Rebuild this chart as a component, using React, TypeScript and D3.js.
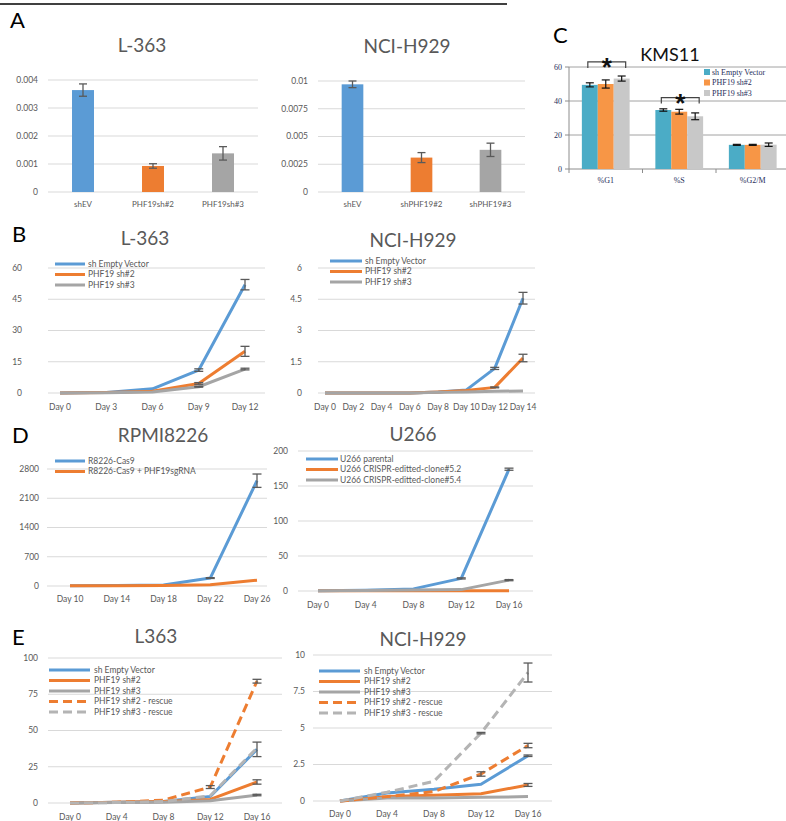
import React from 'react';
import * as d3 from 'd3';

// ---- data ----
const aCatsL363 = ['shEV', 'PHF19sh#2', 'PHF19sh#3'];
const aValsL363 = [0.00364, 0.00093, 0.00138];
const aErrL363 = [0.00022, 0.00008, 0.00024];
const aTicksL363 = [0, 0.001, 0.002, 0.003, 0.004];

const aCatsH929 = ['shEV', 'shPHF19#2', 'shPHF19#3'];
const aValsH929 = [0.0097, 0.0031, 0.0038];
const aErrH929 = [0.0003, 0.00045, 0.0006];
const aTicksH929 = [0, 0.0025, 0.005, 0.0075, 0.01];

const cPhases = ['%G1', '%S', '%G2/M'];
const cNames = ['sh Empty Vector', 'PHF19 sh#2', 'PHF19 sh#3'];
const cEmpty = [49.5, 34.7, 14.2];
const cEmptyErr = [1.2, 0.7, 0.3];
const cSh2 = [50, 33.7, 14.2];
const cSh2Err = [2.4, 1.4, 0.3];
const cSh3 = [53.2, 31, 14.3];
const cSh3Err = [1.5, 2, 1];
const cTicks = [0, 20, 40, 60];
const cSig = [{ phase: '%G1', at: 63 }, { phase: '%S', at: 42 }];

const bDaysL363 = ['Day 0', 'Day 3', 'Day 6', 'Day 9', 'Day 12'];
const bL363Empty = [0, 0.3, 2, 11, 52];
const bL363EmptyErr = [0, 0, 0, 0.6, 2.5];
const bL363Sh2 = [0, 0.2, 0.8, 4.6, 20];
const bL363Sh2Err = [0, 0, 0, 0.4, 2.4];
const bL363Sh3 = [0, 0.1, 0.5, 3, 11.5];
const bL363Sh3Err = [0, 0, 0, 0.2, 0.4];
const bTicksL363 = [0, 15, 30, 45, 60];

const bDaysH929 = ['Day 0', 'Day 2', 'Day 4', 'Day 6', 'Day 8', 'Day 10', 'Day 12', 'Day 14'];
const bH929Empty = [0, 0, 0, 0, 0.05, 0.15, 1.18, 4.55];
const bH929EmptyErr = [0, 0, 0, 0, 0, 0, 0.05, 0.28];
const bH929Sh2 = [0, 0, 0, 0, 0.05, 0.12, 0.27, 1.68];
const bH929Sh2Err = [0, 0, 0, 0, 0, 0, 0.02, 0.18];
const bH929Sh3 = [0, 0, 0, 0, 0.03, 0.05, 0.08, 0.1];
const bTicksH929 = [0, 1.5, 3, 4.5, 6];

const dDaysRpmi = ['Day 10', 'Day 14', 'Day 18', 'Day 22', 'Day 26'];
const dCas9 = [5, 10, 25, 190, 2520];
const dCas9Err = [0, 0, 0, 10, 160];
const dSgRNA = [5, 8, 12, 30, 140];
const dTicksRpmi = [0, 700, 1400, 2100, 2800];

const dDaysU266 = ['Day 0', 'Day 4', 'Day 8', 'Day 12', 'Day 16'];
const dParental = [0.5, 1, 3, 18, 174];
const dParentalErr = [0, 0, 0, 0.8, 1.5];
const dClone52 = [0.2, 0.3, 0.4, 0.5, 0.5];
const dClone54 = [0.5, 0.8, 1.5, 2, 15.5];
const dClone54Err = [0, 0, 0, 0, 0.8];
const dTicksU266 = [0, 50, 100, 150, 200];

const eDays = ['Day 0', 'Day 4', 'Day 8', 'Day 12', 'Day 16'];
const eLEmpty = [0, 0.5, 1, 4.5, 37];
const eLEmptyErr = [0, 0, 0, 0, 5];
const eLSh2 = [0, 0.5, 1, 2.5, 14.5];
const eLSh2Err = [0, 0, 0, 0, 1.5];
const eLSh3 = [0, 0.3, 0.5, 1.5, 5.5];
const eLSh3Err = [0, 0, 0, 0, 0.5];
const eLSh2R = [0, 0.5, 2, 11, 84];
const eLSh2RErr = [0, 0, 0, 1, 1.3];
const eLSh3R = [0, 0.3, 1, 5, 38];
const eTicksL = [0, 25, 50, 75, 100];

const eHEmpty = [0, 0.55, 0.8, 1.15, 3.1];
const eHEmptyErr = [0, 0, 0, 0, 0.05];
const eHSh2 = [0, 0.3, 0.4, 0.5, 1.1];
const eHSh2Err = [0, 0, 0, 0, 0.1];
const eHSh3 = [0, 0.2, 0.2, 0.25, 0.3];
const eHSh2R = [0, 0.3, 0.65, 1.85, 3.8];
const eHSh2RErr = [0, 0, 0, 0.15, 0.15];
const eHSh3R = [0, 0.6, 1.35, 4.65, 8.8];
const eHSh3RErr = [0, 0, 0, 0.05, 0.65];
const eTicksH = [0, 2.5, 5, 7.5, 10];

// ---- styles ----
const FONT = 'Lato, "Open Sans", sans-serif';
const SERIF = '"Liberation Serif", "DejaVu Serif", serif';
const BLUE = '#5b9bd5';
const ORANGE = '#ed7d31';
const GRAY = '#a5a5a5';
const GRID = '#d9d9d9';
const TXT = '#595959';
const ERR = '#5a5a5a';
const DASH = '9,5';

type Series = { name: string; values: number[]; err?: number[]; color: string; dash?: string };

function ErrBar({ x, y0, y1, w }: { x: number; y0: number; y1: number; w: number }) {
  return (
    <g stroke={ERR} strokeWidth={1.3}>
      <line x1={x} x2={x} y1={y0} y2={y1} />
      <line x1={x - w / 2} x2={x + w / 2} y1={y0} y2={y0} />
      <line x1={x - w / 2} x2={x + w / 2} y1={y1} y2={y1} />
    </g>
  );
}

function LinePanel(p: {
  title: string; titleX: number; titleY: number;
  cats: string[]; xRange: [number, number]; gridX: [number, number];
  ticks: number[]; yBottom: number; yTop: number; labelX: number; catY: number;
  series: Series[]; legend: { x0: number; x1: number; tx: number; y0: number; dy: number };
}) {
  const x = d3.scalePoint<string>().domain(p.cats).range(p.xRange);
  const y = d3.scaleLinear().domain([0, p.ticks[p.ticks.length - 1]]).range([p.yBottom, p.yTop]);
  const line = d3.line<number>().x((_, i) => x(p.cats[i]) as number).y(v => y(v));
  return (
    <g fontFamily={FONT}>
      <text x={p.titleX} y={p.titleY} textAnchor="middle" fontSize={19} fill={TXT}>{p.title}</text>
      {p.ticks.map(t => (
        <g key={t}>
          <line x1={p.gridX[0]} x2={p.gridX[1]} y1={y(t)} y2={y(t)} stroke={GRID} />
          <text x={p.labelX} y={y(t)} dy="0.35em" textAnchor="end" fontSize={8.5} fill={TXT}>{String(t)}</text>
        </g>
      ))}
      {p.cats.map(c => (
        <text key={c} x={x(c)} y={p.catY} textAnchor="middle" fontSize={8.5} fill={TXT}>{c}</text>
      ))}
      {p.series.map(s => (
        <path key={s.name} d={line(s.values) as string} fill="none" stroke={s.color} strokeWidth={3}
          strokeDasharray={s.dash} strokeLinejoin="round" />
      ))}
      {p.series.map(s => s.err ? s.err.map((e, i) => e > 0 ? (
        <ErrBar key={s.name + i} x={x(p.cats[i]) as number} y0={y(s.values[i] + e)} y1={y(s.values[i] - e)} w={9} />
      ) : null) : null)}
      {p.series.map((s, i) => {
        const ly = p.legend.y0 + i * p.legend.dy;
        return (
          <g key={'lg' + s.name}>
            <line x1={p.legend.x0} x2={p.legend.x1} y1={ly} y2={ly} stroke={s.color} strokeWidth={3} strokeDasharray={s.dash} />
            <text x={p.legend.tx} y={ly} dy="0.35em" fontSize={8.5} fill={TXT}>{s.name}</text>
          </g>
        );
      })}
    </g>
  );
}

function BarPanel(p: {
  title: string; titleX: number; titleY: number;
  cats: string[]; values: number[]; err: number[]; ticks: number[];
  xRange: [number, number]; yBottom: number; yTop: number; labelX: number; catY: number;
}) {
  const x = d3.scaleBand<string>().domain(p.cats).range(p.xRange).paddingInner(0.686).paddingOuter(0.343);
  const y = d3.scaleLinear().domain([0, p.ticks[p.ticks.length - 1]]).range([p.yBottom, p.yTop]);
  const colors = [BLUE, ORANGE, GRAY];
  return (
    <g fontFamily={FONT}>
      <text x={p.titleX} y={p.titleY} textAnchor="middle" fontSize={19} fill={TXT}>{p.title}</text>
      {p.ticks.map(t => (
        <g key={t}>
          <line x1={p.xRange[0]} x2={p.xRange[1]} y1={y(t)} y2={y(t)} stroke={GRID} />
          <text x={p.labelX} y={y(t)} dy="0.35em" textAnchor="end" fontSize={8.5} fill={TXT}>{String(t)}</text>
        </g>
      ))}
      {p.cats.map((c, i) => {
        const bx = x(c) as number;
        const cx = bx + x.bandwidth() / 2;
        return (
          <g key={c}>
            <rect x={bx} y={y(p.values[i])} width={x.bandwidth()} height={y(0) - y(p.values[i])} fill={colors[i]} />
            <ErrBar x={cx} y0={y(p.values[i] + p.err[i])} y1={y(p.values[i] - p.err[i])} w={8} />
            <text x={cx} y={p.catY} textAnchor="middle" fontSize={8} fill={TXT}>{c}</text>
          </g>
        );
      })}
    </g>
  );
}

function CPanel() {
  const x0 = d3.scaleBand<string>().domain(cPhases).range([569, 789.5]).paddingInner(0.35).paddingOuter(0.175);
  const x1 = d3.scaleBand<string>().domain(cNames).range([0, x0.bandwidth()]);
  const y = d3.scaleLinear().domain([0, 60]).range([169, 67]);
  const vals = [cEmpty, cSh2, cSh3];
  const errs = [cEmptyErr, cSh2Err, cSh3Err];
  const cols = ['#4bacc6', '#f79646', '#c8c8c8'];
  const axisCol = '#8c8c8c';
  const edges = [0, 1, 2, 3].map(i => 569 + i * x0.step());
  return (
    <g>
      <text x={670} y={61} textAnchor="middle" fontSize={18} fontFamily={FONT} fill="#111">KMS11</text>
      {cTicks.map(t => (
        <g key={t}>
          {t > 0 && <line x1={569} x2={786} y1={y(t)} y2={y(t)} stroke={axisCol} strokeWidth={0.8} />}
          <line x1={565} x2={569} y1={y(t)} y2={y(t)} stroke={axisCol} />
          <text x={562} y={y(t)} dy="0.35em" textAnchor="end" fontSize={8} fontFamily={SERIF} fill="#1f2d5a">{t}</text>
        </g>
      ))}
      <line x1={569} x2={569} y1={y(60)} y2={y(0)} stroke={axisCol} />
      <line x1={569} x2={786} y1={y(0)} y2={y(0)} stroke={axisCol} />
      {edges.map(e => <line key={e} x1={e} x2={e} y1={y(0)} y2={y(0) + 4} stroke={axisCol} />)}
      {cPhases.map((ph, j) => (
        <g key={ph}>
          {cNames.map((n, i) => {
            const bx = (x0(ph) as number) + (x1(n) as number);
            const cx = bx + x1.bandwidth() / 2;
            return (
              <g key={n}>
                <rect x={bx} y={y(vals[i][j])} width={x1.bandwidth()} height={y(0) - y(vals[i][j])} fill={cols[i]} />
                <g stroke="#111" strokeWidth={1.2}>
                  <line x1={cx} x2={cx} y1={y(vals[i][j] + errs[i][j])} y2={y(vals[i][j] - errs[i][j])} />
                  <line x1={cx - 4} x2={cx + 4} y1={y(vals[i][j] + errs[i][j])} y2={y(vals[i][j] + errs[i][j])} />
                  <line x1={cx - 4} x2={cx + 4} y1={y(vals[i][j] - errs[i][j])} y2={y(vals[i][j] - errs[i][j])} />
                </g>
              </g>
            );
          })}
          <text x={(x0(ph) as number) + x0.bandwidth() / 2} y={183} textAnchor="middle" fontSize={8} fontFamily={SERIF} fill="#1f2d5a">{ph}</text>
        </g>
      ))}
      {cSig.map(s => {
        const a = (x0(s.phase) as number) + (x1(cNames[0]) as number) + x1.bandwidth() / 2 - 2;
        const b = (x0(s.phase) as number) + (x1(cNames[2]) as number) + x1.bandwidth() / 2 + 4;
        const yy = y(s.at);
        return (
          <g key={s.phase}>
            <path d={`M${a},${yy + 6}V${yy}H${b}V${yy + 6}`} fill="none" stroke="#444" strokeWidth={1.2} />
            <text x={(a + b) / 2} y={yy + 14} textAnchor="middle" fontSize={26} fontWeight="bold" fontFamily='"Liberation Sans", sans-serif' fill="#111">*</text>
          </g>
        );
      })}
      {cNames.map((n, i) => (
        <g key={'lg' + n}>
          <rect x={704} y={72 + i * 10.5 - 3} width={6} height={6} fill={cols[i]} />
          <text x={712} y={72 + i * 10.5} dy="0.35em" fontSize={8} fontFamily={SERIF} fill="#1f2d5a">{n}</text>
        </g>
      ))}
    </g>
  );
}

export default function App() {
  const letter = (t: string, x: number, y: number) => (
    <text x={x} y={y} fontSize={22} fontFamily={FONT} fill="#000">{t}</text>
  );
  const lg5 = (x0: number, x1: number, tx: number, y0: number) => ({ x0, x1, tx, y0, dy: 10.5 });
  return (
    <svg width={786} height={821} style={{ position: 'absolute', left: 0, top: 0, background: '#fff' }}>
      <rect width={786} height={821} fill="#fff" />
      <line x1={0} x2={507} y1={4} y2={4} stroke="#000" strokeWidth={1.5} />
      {letter('A', 10, 28)}
      {letter('B', 12, 242)}
      {letter('C', 553, 43)}
      {letter('D', 12, 443)}
      {letter('E', 12, 645)}

      <BarPanel title="L-363" titleX={142} titleY={52} cats={aCatsL363} values={aValsL363} err={aErrL363}
        ticks={aTicksL363} xRange={[48, 258]} yBottom={192} yTop={80} labelX={38} catY={207} />
      <BarPanel title="NCI-H929" titleX={407} titleY={53} cats={aCatsH929} values={aValsH929} err={aErrH929}
        ticks={aTicksH929} xRange={[318, 525]} yBottom={192} yTop={81} labelX={308} catY={207} />
      <CPanel />

      <LinePanel title="L-363" titleX={145} titleY={245} cats={bDaysL363} xRange={[60, 245]} gridX={[48, 265]}
        ticks={bTicksL363} yBottom={393} yTop={268} labelX={22} catY={410}
        series={[
          { name: 'sh Empty Vector', values: bL363Empty, err: bL363EmptyErr, color: BLUE },
          { name: 'PHF19 sh#2', values: bL363Sh2, err: bL363Sh2Err, color: ORANGE },
          { name: 'PHF19 sh#3', values: bL363Sh3, err: bL363Sh3Err, color: GRAY },
        ]}
        legend={lg5(55, 85, 88, 264)} />
      <LinePanel title="NCI-H929" titleX={413} titleY={247} cats={bDaysH929} xRange={[325, 523]} gridX={[318, 535]}
        ticks={bTicksH929} yBottom={393} yTop={268} labelX={302} catY={410}
        series={[
          { name: 'sh Empty Vector', values: bH929Empty, err: bH929EmptyErr, color: BLUE },
          { name: 'PHF19 sh#2', values: bH929Sh2, err: bH929Sh2Err, color: ORANGE },
          { name: 'PHF19 sh#3', values: bH929Sh3, color: GRAY },
        ]}
        legend={lg5(330, 362, 365, 261)} />

      <LinePanel title="RPMI8226" titleX={163} titleY={442} cats={dDaysRpmi} xRange={[70, 257]} gridX={[47, 267]}
        ticks={dTicksRpmi} yBottom={586} yTop={469} labelX={39} catY={602}
        series={[
          { name: 'R8226-Cas9', values: dCas9, err: dCas9Err, color: BLUE },
          { name: 'R8226-Cas9 + PHF19sgRNA', values: dSgRNA, color: ORANGE },
        ]}
        legend={lg5(55, 85, 88, 461)} />
      <LinePanel title="U266" titleX={413} titleY={441} cats={dDaysU266} xRange={[318, 509]} gridX={[298, 533]}
        ticks={dTicksU266} yBottom={591} yTop={451} labelX={288} catY={608}
        series={[
          { name: 'U266 parental', values: dParental, err: dParentalErr, color: BLUE },
          { name: 'U266 CRISPR-editted-clone#5.2', values: dClone52, color: ORANGE },
          { name: 'U266 CRISPR-editted-clone#5.4', values: dClone54, err: dClone54Err, color: GRAY },
        ]}
        legend={lg5(306, 338, 340, 459)} />

      <LinePanel title="L363" titleX={156} titleY={643} cats={eDays} xRange={[70, 257]} gridX={[48, 282]}
        ticks={eTicksL} yBottom={803} yTop={658} labelX={38} catY={820}
        series={[
          { name: 'sh Empty Vector', values: eLEmpty, err: eLEmptyErr, color: BLUE },
          { name: 'PHF19 sh#2', values: eLSh2, err: eLSh2Err, color: ORANGE },
          { name: 'PHF19 sh#3', values: eLSh3, err: eLSh3Err, color: GRAY },
          { name: 'PHF19 sh#2 - rescue', values: eLSh2R, err: eLSh2RErr, color: ORANGE, dash: DASH },
          { name: 'PHF19 sh#3 - rescue', values: eLSh3R, color: '#b4b4b4', dash: DASH },
        ]}
        legend={lg5(49, 90, 94, 670)} />
      <LinePanel title="NCI-H929" titleX={423} titleY={646} cats={eDays} xRange={[340, 528]} gridX={[313, 552]}
        ticks={eTicksH} yBottom={801} yTop={655} labelX={305} catY={817}
        series={[
          { name: 'sh Empty Vector', values: eHEmpty, err: eHEmptyErr, color: BLUE },
          { name: 'PHF19 sh#2', values: eHSh2, err: eHSh2Err, color: ORANGE },
          { name: 'PHF19 sh#3', values: eHSh3, color: GRAY },
          { name: 'PHF19 sh#2 - rescue', values: eHSh2R, err: eHSh2RErr, color: ORANGE, dash: DASH },
          { name: 'PHF19 sh#3 - rescue', values: eHSh3R, err: eHSh3RErr, color: '#b4b4b4', dash: DASH },
        ]}
        legend={lg5(319, 360, 364, 671)} />
    </svg>
  );
}
